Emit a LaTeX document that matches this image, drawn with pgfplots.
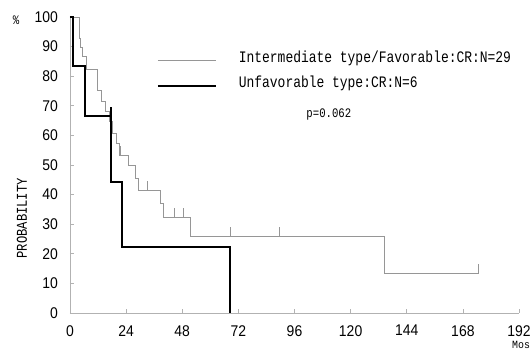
\documentclass[border=0pt]{standalone}
\usepackage{fontspec}
\usepackage{pgfplots}
\pgfplotsset{compat=1.18}
\setmainfont{Liberation Sans}
\newfontfamily\gth[FakeStretch=0.81]{Liberation Mono}
\newfontfamily\gthtick[FakeStretch=0.9]{Liberation Sans}
\newfontfamily\gthp[FakeStretch=0.82]{Liberation Mono}
\newfontfamily\gthm[FakeStretch=0.9]{Liberation Mono}
\pgfdeclareplotmark{cens}{\pgfpathmoveto{\pgfpointorigin}\pgfpathlineto{\pgfpoint{0pt}{9pt}}\pgfusepathqstroke}
\definecolor{kmgray}{RGB}{150,150,150}
\begin{document}
\begin{tikzpicture}
\path[use as bounding box] (-70pt,-37pt) rectangle (462pt,313pt);
\begin{axis}[
  scale only axis, width=449pt, height=296pt,
  xmin=0, xmax=192, ymin=0, ymax=100,
  axis x line*=bottom, axis y line*=left,
  axis line style={gray!60, line width=0.6pt, -},
  xtick={0,24,...,192}, ytick={0,10,...,100},
  tick style={gray!60, line width=0.6pt},
  major tick length=4pt, tick align=inside,
  /pgf/number format/assume math mode=true,
  tick label style={font=\fontsize{15.5}{15.5}\gthtick, inner sep=0pt},
  yticklabel style={anchor=east, xshift=-12pt},
  xticklabel style={anchor=north, yshift=-12pt},
  clip=false,
  legend style={at={(axis description cs:0.193,0.885)}, anchor=north west, draw=none, fill=none, inner sep=0pt, row sep=12pt, font=\fontsize{16}{16}\gth, nodes={inner sep=0pt}},
  legend cell align=left,
  legend image code/.code={\draw[#1] (0pt,-3pt) -- (58pt,-3pt);},
  /tikz/every odd column/.append style={column sep=22pt},
]
\addplot[kmgray, line width=0.7pt] coordinates {
(0,100)(3.8,100)(3.8,92.8)(4.5,92.8)(4.5,89.8)(5.2,89.8)(5.2,86.6)(7.1,86.6)(7.1,82.3)
(11.7,82.3)(11.7,75.3)(13.2,75.3)(13.2,71.4)(15,71.4)(15,68)(16.7,68)(16.7,64.6)
(18,64.6)(18,60.7)(19.9,60.7)(19.9,57.3)(20.9,57.3)(20.9,53.4)(24.9,53.4)(24.9,50)
(27.8,50)(27.8,45.5)(29.2,45.5)(29.2,41.6)(38.5,41.6)(38.5,37.1)(39.9,37.1)(39.9,32.3)
(51.3,32.3)(51.3,26)(134.4,26)(134.4,13.4)(174.7,13.4)};
\addlegendentry{Intermediate type/Favorable:CR:N=29}
\addplot[black, line width=2pt] coordinates {
(0,100)(1.4,100)(1.4,83.3)(6.4,83.3)(6.4,66.7)(17.5,66.7)(17.5,44.4)(22.4,44.4)
(22.4,22.2)(68.4,22.2)(68.4,0)};
\addlegendentry{Unfavorable type:CR:N=6}
\addplot[only marks, mark=cens, kmgray, mark options={line width=0.7pt}, forget plot] coordinates {
(21.7,53.4)(33,41.6)(44.5,32.3)(48.4,32.3)(68.7,26)(89.5,26)(174.7,13.4)};
\addplot[only marks, mark=cens, black, mark options={line width=2pt}, forget plot] coordinates {
(17.5,66.7)};
\node[font=\fontsize{13}{13}\gthp, inner sep=0pt] at (axis cs:110.7,67.2) {p=0.062};
\node[font=\fontsize{15}{15}\gth, inner sep=0pt, rotate=90] at (axis description cs:-0.107,0.32) {PROBABILITY};
\node[font=\fontsize{13}{13}\gthp, inner sep=0pt] at (axis description cs:-0.12,0.99) {\%};
\node[font=\fontsize{11}{11}\gthm, inner sep=0pt, anchor=south east] at (axis description cs:1.025,-0.1216) {Mos};
\end{axis}
\end{tikzpicture}
\end{document}
